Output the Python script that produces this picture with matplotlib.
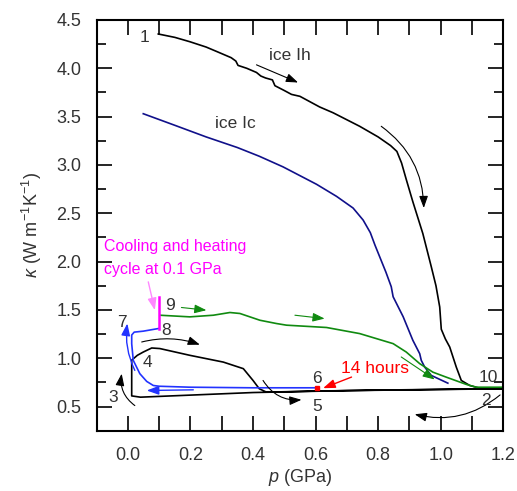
import matplotlib
matplotlib.use("Agg")
import matplotlib.pyplot as plt
from matplotlib.ticker import MultipleLocator

plt.rcParams['font.family'] = ['Liberation Sans', 'DejaVu Sans']
plt.rcParams['mathtext.fontset'] = 'custom'
plt.rcParams['mathtext.rm'] = 'Liberation Sans'
plt.rcParams['mathtext.it'] = 'Liberation Sans:italic'

TXT = '#333333'

# ---- data ----
ih_p = [0.097, 0.15, 0.198, 0.25, 0.283, 0.33, 0.345, 0.352, 0.38, 0.411, 0.425, 0.44, 0.462,
        0.47, 0.50, 0.523, 0.55, 0.613, 0.656, 0.741, 0.80, 0.84, 0.86, 0.875, 0.89, 0.911,
        0.943, 0.970, 0.985, 0.997, 1.002, 1.015, 1.029, 1.05, 1.066, 1.093, 1.125, 1.2]
ih_k = [4.355, 4.32, 4.275, 4.22, 4.175, 4.11, 4.075, 4.03, 4.00, 3.957, 3.92, 3.90, 3.88,
        3.82, 3.77, 3.73, 3.71, 3.60, 3.54, 3.40, 3.29, 3.20, 3.14, 3.02, 2.85, 2.62,
        2.29, 1.947, 1.75, 1.53, 1.30, 1.20, 1.116, 0.908, 0.77, 0.718, 0.69, 0.685]

ic_p = [0.049, 0.15, 0.25, 0.35, 0.42, 0.496, 0.603, 0.667, 0.72, 0.752,
        0.775, 0.79, 0.805, 0.825, 0.842, 0.848, 0.88, 0.911, 0.933, 0.938, 0.949, 0.970, 1.023]
ic_k = [3.53, 3.41, 3.29, 3.18, 3.09, 2.98, 2.80, 2.675, 2.554, 2.43,
        2.30, 2.17, 2.05, 1.89, 1.74, 1.636, 1.43, 1.186, 1.047, 0.978, 0.908, 0.822, 0.742]

# black cycle 2 -> 3 -> 4 -> 5 -> 2
cyc_p = [1.2, 0.70, 0.40, 0.04, 0.012, 0.012, 0.03, 0.049, 0.076, 0.102, 0.198, 0.305,
         0.369, 0.40, 0.42, 0.443, 0.60, 0.80, 1.0, 1.2]
cyc_k = [0.684, 0.665, 0.645, 0.597, 0.61, 0.98, 1.03, 1.064, 1.106, 1.10, 1.03, 0.96,
         0.892, 0.77, 0.684, 0.649, 0.66, 0.67, 0.678, 0.684]

# blue decompression 6 -> 7 -> 8
dec_p = [0.60, 0.40, 0.20, 0.10, 0.081, 0.06, 0.038, 0.017, 0.012, 0.012, 0.02, 0.049, 0.097]
dec_k = [0.694, 0.694, 0.70, 0.71, 0.718, 0.76, 0.84, 0.978, 1.15, 1.24, 1.27, 1.28, 1.307]

# magenta cooling/heating cycle at 0.1 GPa
mag_p = [0.098, 0.098]
mag_k = [1.307, 1.636]

# green compression 9 -> 10
grn_p = [0.102, 0.198, 0.273, 0.326, 0.358, 0.422, 0.475, 0.507, 0.635, 0.741, 0.848,
         0.89, 0.933, 0.975, 1.018, 1.082, 1.114, 1.2]
grn_k = [1.445, 1.428, 1.445, 1.473, 1.463, 1.393, 1.359, 1.342, 1.318, 1.255, 1.151,
         1.064, 0.944, 0.856, 0.804, 0.729, 0.70, 0.70]

# 14 hours point
hold_p = [0.603]
hold_k = [0.688]

point_labels = ['1', '2', '3', '4', '5', '6', '7', '8', '9', '10']
point_p = [0.054, 1.146, -0.047, 0.062, 0.605, 0.605, -0.02, 0.121, 0.134, 1.151]
point_k = [4.32, 0.56, 0.597, 0.96, 0.50, 0.794, 1.365, 1.29, 1.55, 0.805]

# ---- figure ----
fig = plt.figure(figsize=(5.17, 4.91), dpi=100)
ax = fig.add_axes([0.187, 0.1228, 0.7863, 0.8365])

lw = 1.2
ax.plot(ih_p, ih_k, color='black', lw=lw)
ax.plot(ic_p, ic_k, color='#10108a', lw=lw)
ax.plot(cyc_p, cyc_k, color='black', lw=lw)
ax.plot(dec_p, dec_k, color='#2233ff', lw=lw)
ax.plot(grn_p, grn_k, color='#108a10', lw=lw)
ax.plot(mag_p, mag_k, color='#ff00ff', lw=1.8)
ax.plot(hold_p, hold_k, 's', color='red', ms=2.5)

def arrow(p0, p1, color='black', rad=0.0, lw=0.8, ms=12):
    ax.annotate('', xy=p1, xytext=p0,
                arrowprops=dict(arrowstyle='-|>,head_length=0.6,head_width=0.22',
                                color=color, lw=lw, mutation_scale=ms,
                                shrinkA=0, shrinkB=0,
                                connectionstyle='arc3,rad=%s' % rad))

arrow((0.411, 4.036), (0.544, 3.853))
arrow((0.81, 3.40), (0.946, 2.554), rad=-0.25)
arrow((0.022, 0.51), (-0.02, 0.84), rad=-0.3)
arrow((0.044, 1.168), (0.23, 1.14), rad=-0.15)
arrow((0.432, 0.77), (0.555, 0.57), rad=0.3)
arrow((1.19, 0.62), (0.917, 0.42), rad=-0.25)
arrow((0.022, 0.874), (-0.002, 1.36), color='#2233ff', rad=-0.15, lw=1.0)
arrow((0.209, 0.673), (0.06, 0.666), color='#2233ff', lw=1.0)
arrow((0.171, 1.525), (0.251, 1.497), color='#108a10')
arrow((0.534, 1.445), (0.629, 1.41), color='#108a10')
arrow((0.874, 1.013), (0.981, 0.78), color='#108a10')
arrow((0.715, 0.805), (0.624, 0.69), color='red', lw=1.0)
arrow((0.065, 1.79), (0.086, 1.497), color='#ff88ff', lw=1.0)

fs = 12.5
for lab, px, pk in zip(point_labels, point_p, point_k):
    ax.text(px, pk, lab, fontsize=fs, color=TXT, ha='center', va='center')

ax.text(0.517, 4.136, 'ice Ih', fontsize=fs, color=TXT, ha='center', va='center')
ax.text(0.342, 3.43, 'ice Ic', fontsize=fs, color=TXT, ha='center', va='center')
ax.text(0.789, 0.89, '14 hours', fontsize=fs, color='red', ha='center', va='center')
ax.text(-0.076, 2.155, 'Cooling and heating', fontsize=11.5, color='#ff00ff', ha='left', va='center')
ax.text(-0.076, 1.92, 'cycle at 0.1 GPa', fontsize=11.5, color='#ff00ff', ha='left', va='center')

ax.set_xlim(-0.1, 1.2)
ax.set_ylim(0.25, 4.5)
ax.xaxis.set_major_locator(MultipleLocator(0.2))
ax.xaxis.set_minor_locator(MultipleLocator(0.1))
ax.yaxis.set_major_locator(MultipleLocator(0.5))
ax.yaxis.set_minor_locator(MultipleLocator(0.25))
ax.xaxis.set_major_formatter(plt.FuncFormatter(lambda v, _: '%.1f' % v))
ax.yaxis.set_major_formatter(plt.FuncFormatter(lambda v, _: '%.1f' % v))

ax.tick_params(which='both', direction='in', top=True, right=True, colors='black',
               labelcolor=TXT, labelsize=13, width=1.2)
ax.tick_params(axis='x', which='both', length=10.5, pad=12)
ax.tick_params(axis='y', which='major', length=10.5, pad=11)
ax.tick_params(axis='y', which='minor', length=6.5)
for s in ax.spines.values():
    s.set_linewidth(1.5)

ax.set_xlabel(r'$\it{p}$ (GPa)', fontsize=13, color=TXT, labelpad=2)
ax.set_ylabel(r'$\kappa$ (W m$^{-1}$K$^{-1}$)', fontsize=13, color=TXT, labelpad=9)

fig.savefig('out.png', dpi=100)
